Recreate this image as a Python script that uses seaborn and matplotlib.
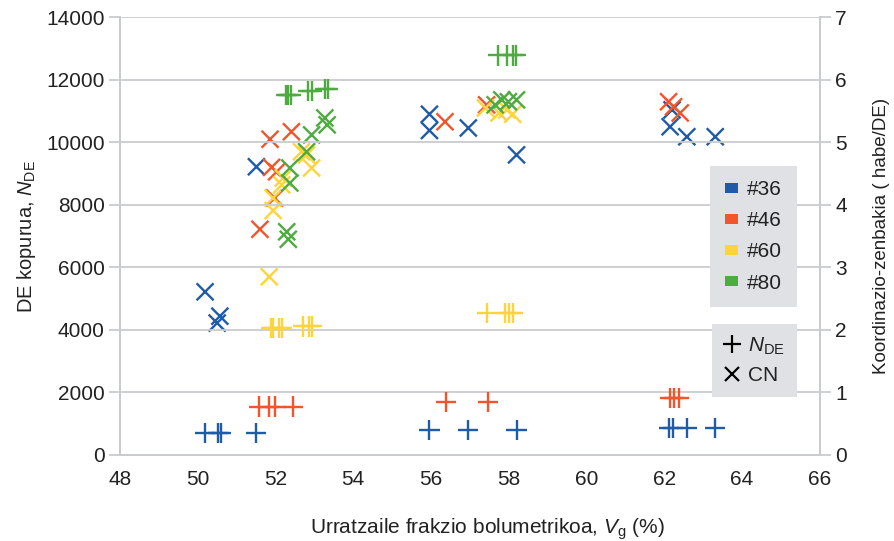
import matplotlib
matplotlib.use("Agg")
import matplotlib.pyplot as plt
from matplotlib.patches import Patch
from matplotlib.lines import Line2D
import seaborn as sns
import pandas as pd

# ---------------- data ----------------
series_names = ["#36", "#46", "#60", "#80"]
colors = ["#1f5ba6", "#f2552c", "#ffd33b", "#4dab3f"]

# N_DE (left axis) -- '+' markers
vg_n_36 = [50.18, 50.52, 50.61, 51.51, 55.96, 56.96, 58.2, 62.13, 62.22, 62.58, 63.31]
n_36 = [710, 710, 710, 710, 800, 800, 800, 850, 850, 850, 850]
vg_n_46 = [51.58, 51.84, 52.0, 52.44, 56.38, 57.46, 62.15, 62.24, 62.37]
n_46 = [1550, 1550, 1550, 1550, 1690, 1690, 1830, 1830, 1830]
vg_n_60 = [51.88, 51.93, 52.1, 52.16, 52.71, 52.87, 52.93, 57.45, 57.9, 58.0, 58.12]
n_60 = [4050, 4050, 4050, 4050, 4110, 4110, 4110, 4530, 4530, 4530, 4530]
vg_n_80 = [52.26, 52.33, 52.41, 52.84, 52.93, 53.27, 53.36, 57.73, 57.95, 58.12, 58.18]
n_80 = [11520, 11520, 11520, 11640, 11640, 11720, 11720, 12780, 12780, 12780, 12780]

# CN (right axis) -- 'x' markers
vg_c_36 = [50.19, 50.57, 50.5, 51.51, 55.96, 55.96, 56.96, 58.2, 62.2, 62.15, 62.58, 63.31]
cn_36 = [2.61, 2.22, 2.11, 4.61, 5.45, 5.19, 5.23, 4.8, 5.52, 5.25, 5.09, 5.09]
vg_c_46 = [51.6, 51.86, 52.41, 51.9, 52.03, 51.98, 56.36, 57.43, 62.11, 62.24, 62.41]
cn_46 = [3.61, 5.05, 5.17, 4.6, 4.53, 4.11, 5.33, 5.6, 5.65, 5.57, 5.47]
vg_c_60 = [51.84, 51.94, 51.94, 52.16, 52.2, 52.67, 52.8, 52.93, 57.4, 57.75, 57.95, 58.1]
cn_60 = [2.85, 3.91, 4.11, 4.32, 4.43, 4.85, 4.8, 4.59, 5.55, 5.47, 5.52, 5.45]
vg_c_80 = [52.29, 52.33, 52.37, 52.37, 52.8, 52.93, 53.27, 53.33, 57.65, 57.82, 57.99, 58.2]
cn_80 = [3.57, 3.45, 4.35, 4.59, 4.85, 5.12, 5.39, 5.28, 5.6, 5.68, 5.65, 5.68]

x_ticks = [48, 50, 52, 54, 56, 58, 60, 62, 64, 66]
yl_ticks = [0, 2000, 4000, 6000, 8000, 10000, 12000, 14000]
yr_ticks = [0, 1, 2, 3, 4, 5, 6, 7]

# ---------------- frames ----------------
df_n = pd.concat([
    pd.DataFrame({"Vg": v, "val": n, "series": s})
    for v, n, s in zip([vg_n_36, vg_n_46, vg_n_60, vg_n_80],
                       [n_36, n_46, n_60, n_80], series_names)
])
df_c = pd.concat([
    pd.DataFrame({"Vg": v, "val": c, "series": s})
    for v, c, s in zip([vg_c_36, vg_c_46, vg_c_60, vg_c_80],
                       [cn_36, cn_46, cn_60, cn_80], series_names)
])
palette = dict(zip(series_names, colors))

# ---------------- figure ----------------
sns.set_theme(style="white")
plt.rcParams["font.family"] = ["Liberation Sans", "DejaVu Sans"]
plt.rcParams["mathtext.fontset"] = "custom"
plt.rcParams["mathtext.rm"] = "Liberation Sans"
plt.rcParams["mathtext.it"] = "Liberation Sans:italic"

fig = plt.figure(figsize=(8.95, 5.41), dpi=100)
ax = fig.add_axes([0.134, 0.159, 0.782, 0.809])
ax2 = ax.twinx()

grid_c = "#c9cccf"
txt_c = "#222222"

sns.scatterplot(data=df_c, x="Vg", y="val", hue="series", palette=palette,
                marker="x", s=150, linewidth=1.7, legend=False, ax=ax2, zorder=3)
sns.scatterplot(data=df_n, x="Vg", y="val", hue="series", palette=palette,
                marker="+", s=210, linewidth=1.7, legend=False, ax=ax, zorder=3)

ax.set_xlim(48, 66)
ax.set_ylim(0, 14000)
ax2.set_ylim(0, 7)
ax.set_xticks(x_ticks)
ax.set_yticks(yl_ticks)
ax2.set_yticks(yr_ticks)

ax.yaxis.grid(True, color=grid_c, linewidth=1.3)
ax.xaxis.grid(False)
ax.set_axisbelow(True)
ax.set_zorder(2)
ax.patch.set_visible(False)
ax2.set_zorder(1)

for a in (ax, ax2):
    for sp in a.spines.values():
        sp.set_color(grid_c)
        sp.set_linewidth(1.3)
    a.spines["top"].set_visible(False)
    a.tick_params(axis="both", length=8, width=1.3, color=grid_c,
                  labelsize=15, labelcolor=txt_c, direction="out", pad=3)

ax.set_xlabel(r"Urratzaile frakzio bolumetrikoa, $V_\mathrm{g}$ (%)", fontsize=15,
              color=txt_c)
ax.xaxis.set_label_coords(0.525, -0.14)
ax.set_ylabel(r"DE kopurua, $N_\mathrm{DE}$", fontsize=14.5, color=txt_c, labelpad=6)
ax2.set_ylabel("Koordinazio-zenbakia ( habe/DE)", fontsize=13.5, color=txt_c, labelpad=19)

# legends
h1 = [Patch(facecolor=c, edgecolor="none") for c in colors]
leg1 = ax.legend(h1, series_names, loc="upper right", bbox_to_anchor=(0.967, 0.661),
                 frameon=True, fancybox=False, facecolor="#dfe1e4", edgecolor="none",
                 framealpha=1, fontsize=15, handlelength=0.63, handleheight=0.4,
                 handletextpad=0.43, labelspacing=0.58, borderpad=0.7,
                 borderaxespad=0, labelcolor=txt_c)
ax.add_artist(leg1)
h2 = [Line2D([], [], ls="none", marker="+", color="black", markersize=13, mew=1.6),
      Line2D([], [], ls="none", marker="x", color="black", markersize=10, mew=1.6)]
leg2 = ax.legend(h2, [r"$N_\mathrm{DE}$", "CN"], loc="upper right",
                 bbox_to_anchor=(0.967, 0.299), frameon=True, fancybox=False,
                 facecolor="#dfe1e4", edgecolor="none", framealpha=1, fontsize=15,
                 handlelength=0.8, handletextpad=0.4, labelspacing=0.45,
                 borderpad=0.55, borderaxespad=0, labelcolor=txt_c)

fig.savefig("out.png", dpi=100)
